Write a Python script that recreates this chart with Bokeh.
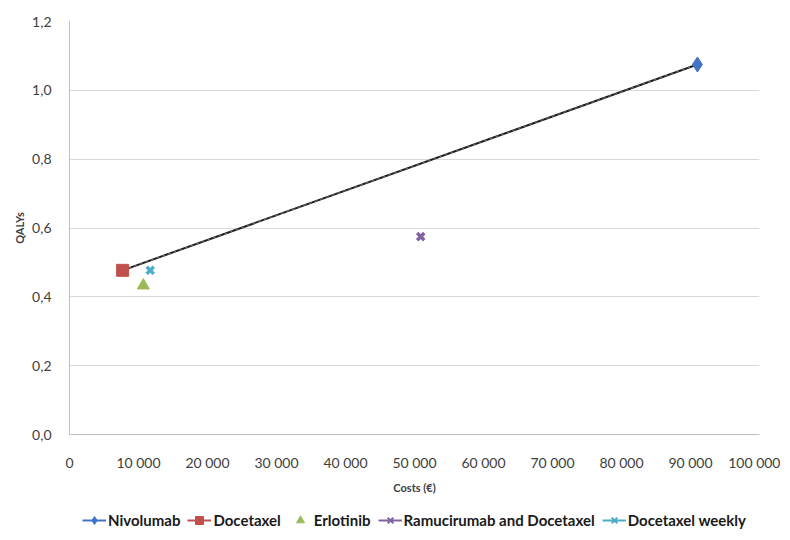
from bokeh.plotting import figure
from bokeh.models import Legend, LegendItem, FixedTicker, ColumnDataSource
from bokeh.layouts import column
from bokeh.embed import file_html
from bokeh.resources import INLINE

names = ["Nivolumab", "Docetaxel", "Erlotinib", "Ramucirumab and Docetaxel", "Docetaxel weekly"]
costs = [91000, 7700, 10700, 50900, 11700]
qalys = [1.075, 0.477, 0.433, 0.575, 0.477]
colors = ["#4472C4", "#C0504D", "#9BBB59", "#8064A2", "#4BACC6"]
markers = ["diamond", "square", "triangle", "x", "x"]
frontier = ["Docetaxel", "Nivolumab"]

x_ticks = [0, 10000, 20000, 30000, 40000, 50000, 60000, 70000, 80000, 90000, 100000]
x_labels = ["0", "10 000", "20 000", "30 000", "40 000", "50 000", "60 000", "70 000", "80 000", "90 000", "100 000"]
y_ticks = [0.0, 0.2, 0.4, 0.6, 0.8, 1.0, 1.2]
y_labels = ["0,0", "0,2", "0,4", "0,6", "0,8", "1,0", "1,2"]

FONT = "Lato"

p = figure(width=780, height=496, output_backend="svg", toolbar_location=None,
           x_range=(0, 100000), y_range=(0, 1.2),
           min_border_left=69, min_border_right=21, min_border_top=21, min_border_bottom=62)
p.outline_line_color = None
p.xgrid.grid_line_color = None
p.ygrid.grid_line_color = "#d9d9d9"
p.ygrid.grid_line_width = 1

p.xaxis.ticker = FixedTicker(ticks=x_ticks)
p.xaxis.major_label_overrides = {t: l for t, l in zip(x_ticks, x_labels)}
p.yaxis.ticker = FixedTicker(ticks=y_ticks)
p.yaxis.major_label_overrides = {t: l for t, l in zip(y_ticks, y_labels)}
for ax in (p.xaxis, p.yaxis):
    ax.axis_line_color = "#bfbfbf"
    ax.major_tick_line_color = None
    ax.minor_tick_line_color = None
    ax.major_label_text_font = FONT
    ax.major_label_text_font_size = "14px"
    ax.major_label_text_color = "#404040"
    ax.axis_label_text_font = FONT
    ax.axis_label_text_font_size = "11px"
    ax.axis_label_text_font_style = "bold"
    ax.axis_label_text_color = "#404040"
p.xaxis.major_label_standoff = 13
p.yaxis.major_label_standoff = 12
p.xaxis.axis_label = "Costs (€)"
p.yaxis.axis_label = "QALYs"
p.xaxis.axis_label_standoff = 7
p.yaxis.axis_label_standoff = 3

# frontier line
fx = [costs[names.index(n)] for n in frontier]
fy = [qalys[names.index(n)] for n in frontier]
p.line(fx, fy, line_color="#1a1a1a", line_width=2)
p.line(fx, fy, line_color="#8a8a8a", line_width=0.8, line_dash="3 3")

sizes = {"diamond": 15, "square": 12, "triangle": 12, "x": 10}
for n, c, q, col, m in zip(names, costs, qalys, colors, markers):
    lw = 3.5 if m == "x" else 1
    p.scatter([c], [q], marker=m, size=sizes[m],
              fill_color=col, line_color=col, line_width=lw)

# legend figure
p2 = figure(width=780, height=40, output_backend="svg", toolbar_location=None,
            x_range=(0, 1), y_range=(0, 1), min_border=0, min_border_top=8)
p2.axis.visible = False
p2.grid.visible = False
p2.outline_line_color = None
items = []
for n, col, m in zip(names, colors, markers):
    src = ColumnDataSource(dict(x=[5, 6], y=[5, 6]))
    rs = []
    if n != "Erlotinib":
        rs.append(p2.line("x", "y", source=src, line_color=col, line_width=2))
    lw = 2 if m == "x" else 1
    rs.append(p2.scatter("x", "y", source=src, marker=m, size=10 if m != "x" else 8,
                         fill_color=col, line_color=col, line_width=lw))
    items.append(LegendItem(label=n, renderers=rs))

legend = Legend(items=items, orientation="horizontal", location="center",
                label_text_font=FONT, label_text_font_size="15px", label_text_font_style="bold",
                label_text_color="#1a1a1a",
                glyph_width=24, spacing=7, label_standoff=2, border_line_color=None,
                background_fill_alpha=0, padding=0, margin=0)
p2.add_layout(legend, "center")

open("out.html", "w").write(file_html(column(p, p2, spacing=0), INLINE))
